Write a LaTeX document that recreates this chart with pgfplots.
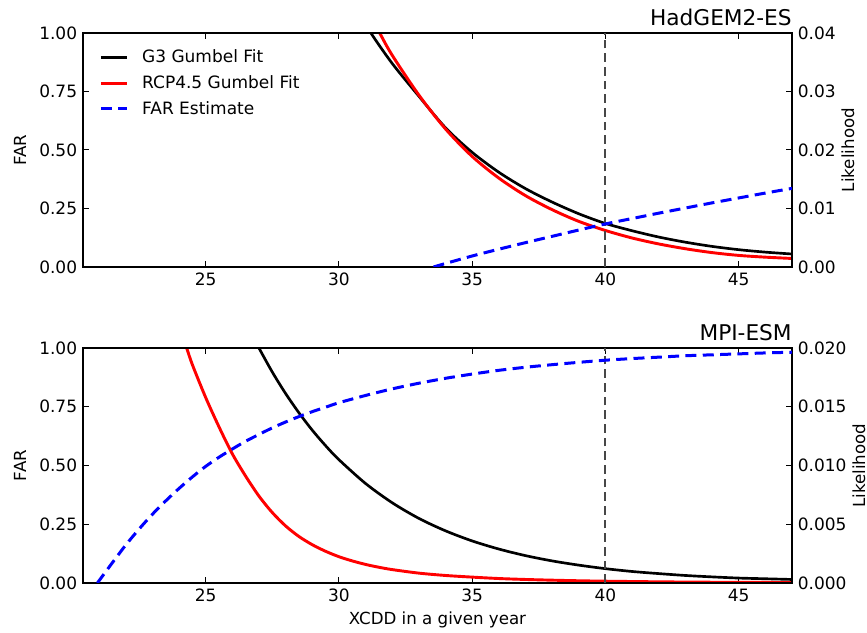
\documentclass[border=0pt]{standalone}
\usepackage{fontspec}
\setmainfont{DejaVu Sans}
\usepackage{pgfplots}
\pgfplotsset{compat=1.18}

\pgfplotsset{
  base/.style={
    scale only axis, width=425.4pt, height=140.4pt,
    xmin=20.4, xmax=47,
    ymin=0,
    axis line style={line width=0.9pt},
    tick style={line width=0.6pt, black},
    major tick length=3.6pt,
    tick align=inside,
    ticklabel style={font=\fontsize{10.2}{12}\selectfont},
    /pgf/number format/assume math mode=true,
    label style={font=\fontsize{10}{12}\selectfont},
    scaled y ticks=false,
  },
  likeax/.style={
    base,
    xtick={25,30,35,40,45},
    ytick pos=right, yticklabel pos=right,
    ylabel={Likelihood},
    every axis title shift=0pt,
    title style={at={(axis description cs:1,1.03)}, anchor=base east, inner sep=0pt, font=\fontsize{13}{15}\selectfont},
  },
  farax/.style={
    base,
    ymax=1,
    xtick=\empty,
    ytick={0,0.25,0.5,0.75,1},
    ytick pos=left,
    yticklabel style={/pgf/number format/.cd, fixed, fixed zerofill, precision=2},
    ylabel={FAR},
    ylabel style={at={(axis description cs:-0.0889,0.5)}, anchor=center},
  },
  gblack/.style={black, line width=1.6pt, smooth},
  gred/.style={red, line width=1.75pt, smooth},
  gblue/.style={blue, line width=1.8pt, dash pattern=on 6.6pt off 3.8pt, smooth},
  vline/.style={color=black!72, line width=1.15pt, dash pattern=on 5.2pt off 3pt},
}

\begin{document}
\begin{tikzpicture}
\useasboundingbox (0,0) rectangle (520.2pt,379.8pt);

% ---------------- Top panel: HadGEM2-ES ----------------
\begin{axis}[likeax, at={(49.8pt,219.6pt)}, anchor=south west,
  ymax=0.04, ytick={0,0.01,0.02,0.03,0.04},
  yticklabel style={/pgf/number format/.cd, fixed, fixed zerofill, precision=2},
  ylabel style={at={(axis description cs:1.079,0.5)}, anchor=center},
  title={HadGEM2-ES}]
\addplot[gblack] coordinates {
 (31.0,0.0418) (31.2,0.0400) (32,0.0348) (33,0.0292) (34,0.0238) (35,0.0196)
 (36,0.0162) (37,0.0134) (38,0.0111) (39,0.0091) (40,0.00744) (41,0.0062)
 (42,0.00512) (43,0.00424) (44,0.00352) (45,0.00296) (46,0.00254) (47,0.00222)};
\addplot[gred] coordinates {
 (31.3,0.0418) (31.53,0.0400) (32,0.0362) (33,0.0294) (34,0.0236) (35,0.0189)
 (36,0.0152) (37,0.0122) (38,0.0098) (39,0.0078) (40,0.00624) (41,0.00496)
 (42,0.00394) (43,0.00312) (44,0.00246) (45,0.00198) (46,0.00168) (47,0.00146)};
\end{axis}
\begin{axis}[farax, at={(49.8pt,219.6pt)}, anchor=south west,
  legend cell align=left,
  legend image code/.code={\draw[#1] (0pt,0pt) -- (15.6pt,0pt); \path (21.9pt,0pt);},
  legend style={draw=none, fill=none, at={(axis description cs:0,1)}, anchor=north west,
    xshift=6.6pt, yshift=-5.8pt, font=\fontsize{10.2}{12}\selectfont, row sep=2.2pt}]
\addlegendimage{gblack}
\addlegendentry{G3 Gumbel Fit}
\addlegendimage{gred}
\addlegendentry{RCP4.5 Gumbel Fit}
\addplot[vline, forget plot] coordinates {(40,0) (40,1)};
\addplot[gblue] coordinates {
 (33.55,0) (34,0.015) (35,0.047) (36,0.076) (37,0.104) (38,0.131) (39,0.158)
 (40,0.184) (41,0.207) (42,0.23) (43,0.252) (44,0.274) (45,0.295) (46,0.316) (47,0.336)};
\addlegendentry{FAR Estimate}
\end{axis}

% ---------------- Bottom panel: MPI-ESM ----------------
\begin{axis}[likeax, at={(49.8pt,30pt)}, anchor=south west,
  height=141pt,
  ymax=0.02, ytick={0,0.005,0.01,0.015,0.02},
  yticklabel style={/pgf/number format/.cd, fixed, fixed zerofill, precision=3},
  ylabel style={at={(axis description cs:1.0945,0.5)}, anchor=center},
  xlabel={XCDD in a given year},
  xlabel style={at={(axis description cs:0.5,-0.157)}, anchor=center},
  title={MPI-ESM}]
\addplot[gblack] coordinates {
 (26.9,0.0204) (27.0,0.0200) (27.5,0.01796) (28,0.01613) (28.5,0.01449) (29,0.01301)
 (29.5,0.01169) (30,0.0105) (31,0.00847) (32,0.00683) (33,0.0055) (34,0.00444)
 (35,0.00358) (36,0.00289) (37,0.00233) (38,0.00188) (39,0.00152) (40,0.00122)
 (41,0.00098) (42,0.0008) (43,0.00064) (44,0.00052) (45,0.00042) (46,0.00036) (47,0.0003)};
\addplot[gred] coordinates {
 (24.2,0.0206) (24.29,0.0200) (24.5,0.0186) (25,0.0158) (25.5,0.0133) (26,0.0110)
 (26.5,0.0091) (27,0.0074) (27.5,0.0060) (28,0.00486) (28.5,0.00396) (29,0.00326)
 (29.5,0.0027) (30,0.00224) (30.5,0.00188) (31,0.00158) (31.5,0.00134) (32,0.00114)
 (33,0.00084) (34,0.00064) (35,0.0005) (36,0.00038) (37,0.0003) (38,0.00024)
 (39,0.00019) (40,0.000154) (42,0.0001) (44,0.000066) (47,0.00004)};
\end{axis}
\begin{axis}[farax, at={(49.8pt,30pt)}, anchor=south west, height=141pt]
\addplot[vline] coordinates {(40,0) (40,1)};
\addplot[gblue] coordinates {
 (20.94,0) (21.5,0.086) (22,0.161) (22.5,0.229) (23,0.292) (23.5,0.349) (24,0.402)
 (24.5,0.451) (25,0.496) (25.5,0.535) (26,0.570) (26.5,0.603) (27,0.632)
 (27.5,0.660) (28,0.685) (28.5,0.708) (29,0.729) (29.5,0.748) (30,0.767)
 (31,0.798) (32,0.826) (33,0.850) (34,0.871) (35,0.889) (36,0.905) (37,0.918)
 (38,0.929) (39,0.939) (40,0.948) (41,0.955) (42,0.961) (43,0.967) (44,0.971)
 (45,0.975) (46,0.979) (47,0.982)};
\end{axis}
\end{tikzpicture}
\end{document}
